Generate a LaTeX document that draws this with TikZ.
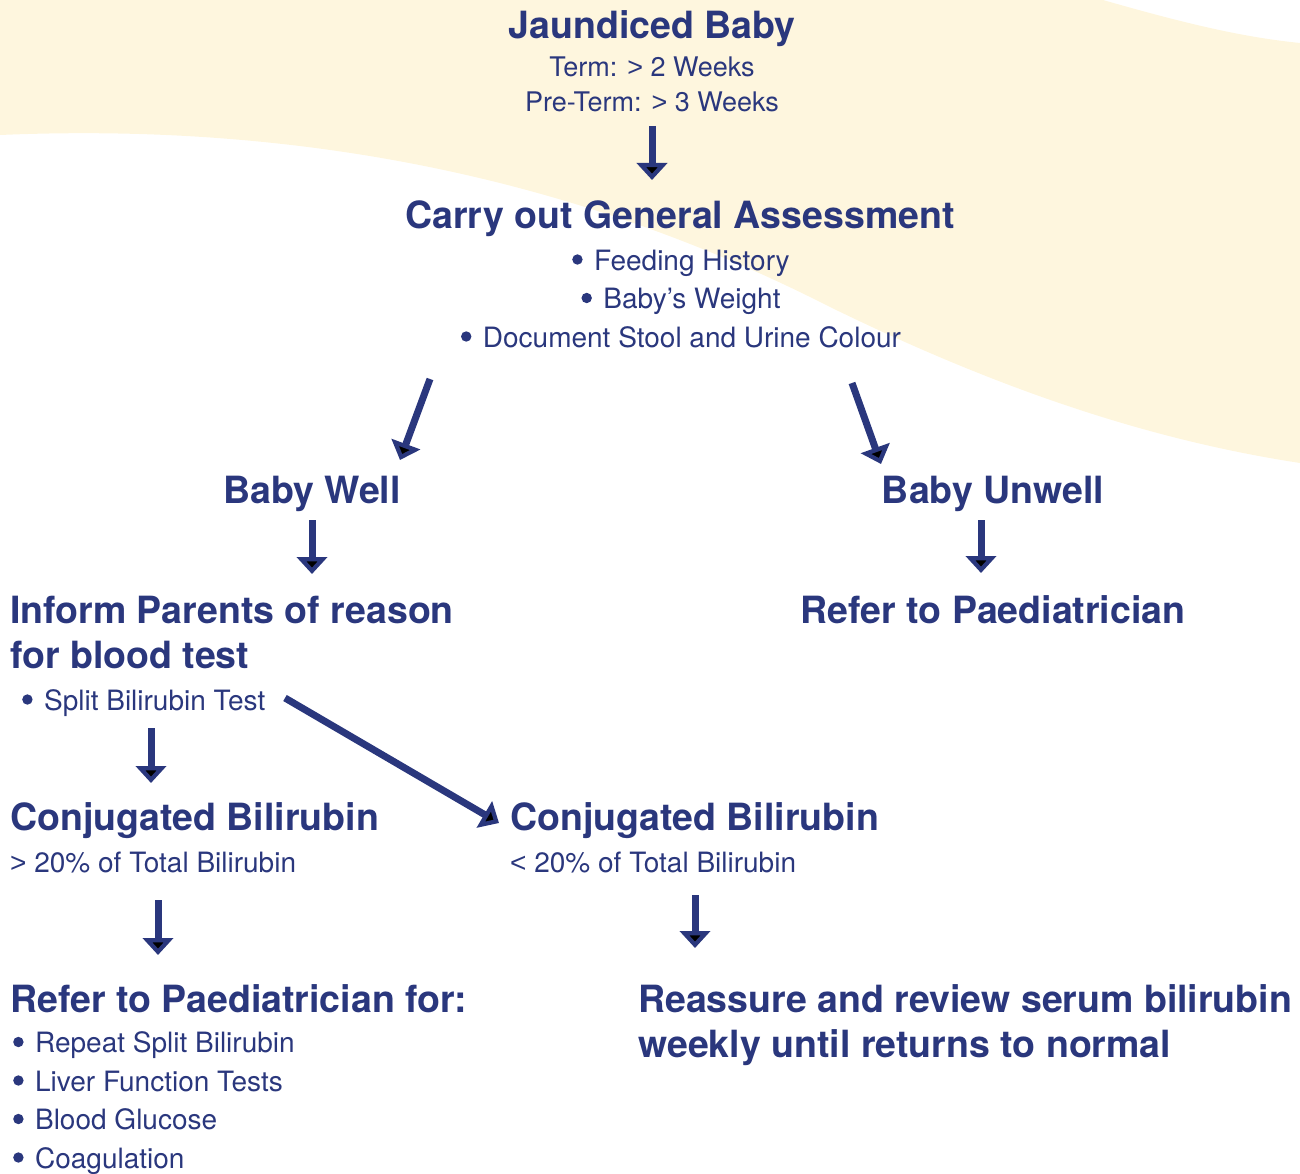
\documentclass[tikz,border=0pt]{standalone}
\usepackage{fontspec}
\setmainfont{TeX Gyre Heros}
\newfontfamily\relfont{Liberation Sans}
\usetikzlibrary{arrows.meta}
\definecolor{navy}{RGB}{42,55,125}
\definecolor{cream}{RGB}{254,246,222}
\newcommand{\bul}{\tikz[baseline=0pt]\fill[navy] (5pt,10.5pt) circle[radius=5.2pt];\hspace{11.5pt}}
\newcommand{\gt}{{\relfont >}}
\newcommand{\lt}{{\relfont <}}

\begin{document}
\begin{tikzpicture}[x=1pt,y=-1pt,
  head/.style={font=\bfseries\fontsize{37.5}{45}\selectfont, text=navy, inner sep=0pt},
  body/.style={font=\fontsize{28}{38.5}\selectfont, text=navy, inner sep=0pt},
  flow/.style={draw=navy, line width=7pt, -{Triangle[width=30pt,length=17pt]}}]
  \useasboundingbox (0,0) rectangle (1300,1174);

  % cream band behind the top
  \fill[cream] (0,0) -- (1103,0) .. controls (1180,22) and (1240,37) .. (1300,43) -- (1300,463)
    .. controls (1150,440) and (1000,390) .. (830,307)
    .. controls (620,200) and (350,120) .. (0,135) -- cycle;

  % start (multi-line nodes sit on their last baseline)
  \node[head, anchor=base] (jaundiced) at (652,39) {Jaundiced Baby};
  \node[body, anchor=base, align=center, font=\fontsize{27}{35}\selectfont] (age) at (652,112)
    {Term: \gt{} 2 Weeks\\Pre-Term: \gt{} 3 Weeks};

  % assessment
  \node[head, anchor=base] (assess) at (680,229) {Carry out General Assessment};
  \node[body, anchor=base, align=center] (checks) at (681,347)
    {\bul Feeding History\\\bul Baby’s Weight\\\bul Document Stool and Urine Colour};

  % two branches
  \node[head, anchor=base] (well) at (312,503) {Baby Well};
  \node[head, anchor=base] (unwell) at (993,503) {Baby Unwell};
  \node[head, anchor=base] (paed) at (993,623) {Refer to Paediatrician};

  \node[head, anchor=base west, align=left] (inform) at (10,668)
    {Inform Parents of reason\\for blood test};
  \node[body, anchor=base west] (split) at (22,710) {\bul Split Bilirubin Test};

  % results
  \node[head, anchor=base west] (conjhi) at (10,830) {Conjugated Bilirubin};
  \node[body, anchor=base west] (hi) at (10,872) {\gt{} 20\% of Total Bilirubin};
  \node[head, anchor=base west] (conjlo) at (510,830) {Conjugated Bilirubin};
  \node[body, anchor=base west] (lo) at (510,872) {\lt{} 20\% of Total Bilirubin};

  % outcomes
  \node[head, anchor=base west] (paedfor) at (10,1012) {Refer to Paediatrician for:};
  \node[body, anchor=base west, align=left] (tests) at (13,1168)
    {\bul Repeat Split Bilirubin\\\bul Liver Function Tests\\\bul Blood Glucose\\\bul Coagulation};
  \node[head, anchor=base west, align=left] (reassure) at (638,1057)
    {Reassure and review serum bilirubin\\weekly until returns to normal};

  % arrow ends
  \coordinate (age-out) at (652,126);
  \coordinate (assess-in) at (652,180);
  \coordinate (checks-l) at (430,379);
  \coordinate (well-in) at (400,460);
  \coordinate (checks-r) at (852,383);
  \coordinate (unwell-in) at (881,464);
  \coordinate (well-out) at (312,520);
  \coordinate (inform-in) at (312,574);
  \coordinate (unwell-out) at (981,520);
  \coordinate (paed-in) at (981,573);
  \coordinate (split-out) at (151,728);
  \coordinate (conjhi-in) at (151,783);
  \coordinate (split-r) at (285,698);
  \coordinate (conjlo-in) at (499,823);
  \coordinate (hi-out) at (158,900);
  \coordinate (paedfor-in) at (158,955);
  \coordinate (lo-out) at (695,895);
  \coordinate (reassure-in) at (695,948);

  \draw[flow] (age-out) -- (assess-in);
  \draw[flow] (checks-l) -- (well-in);
  \draw[flow] (checks-r) -- (unwell-in);
  \draw[flow] (well-out) -- (inform-in);
  \draw[flow] (unwell-out) -- (paed-in);
  \draw[flow] (split-out) -- (conjhi-in);
  \draw[flow] (split-r) -- (conjlo-in);
  \draw[flow] (hi-out) -- (paedfor-in);
  \draw[flow] (lo-out) -- (reassure-in);
\end{tikzpicture}
\end{document}
